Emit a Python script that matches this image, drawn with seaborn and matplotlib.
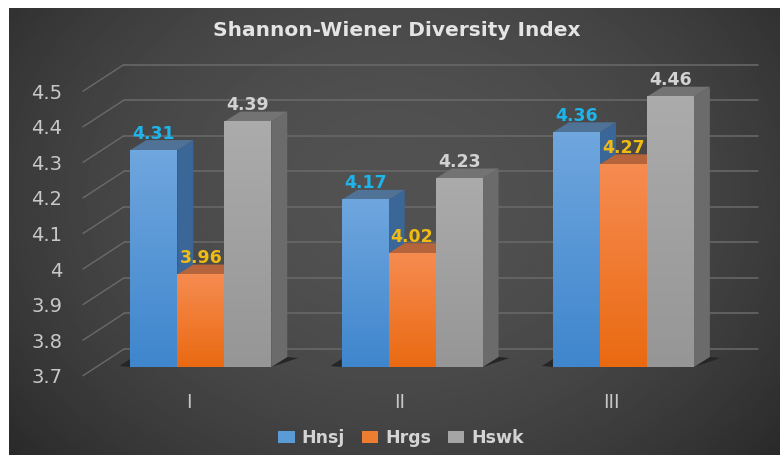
import numpy as np
import pandas as pd
import matplotlib
matplotlib.use("Agg")
import matplotlib.pyplot as plt
from matplotlib.patches import Polygon
from matplotlib.transforms import Affine2D
import seaborn as sns

sites = ["I", "II", "III"]
series_names = ["Hnsj", "Hrgs", "Hswk"]
hnsj = [4.31, 4.17, 4.36]
hrgs = [3.96, 4.02, 4.27]
hswk = [4.39, 4.23, 4.46]
y_ticks = [3.7, 3.8, 3.9, 4.0, 4.1, 4.2, 4.3, 4.4, 4.5]
y_tick_labels = ["3.7", "3.8", "3.9", "4", "4.1", "4.2", "4.3", "4.4", "4.5"]
title = "Shannon-Wiener Diversity Index"

front_top = ["#6fa6de", "#f68b50", "#ababab"]
front_bottom = ["#3f86cd", "#ea6a12", "#969696"]
side_colors = ["#3a6797", "#a8552a", "#6b6b6b"]
top_colors = ["#4f7296", "#b5643c", "#737373"]
label_colors = ["#1eb4ec", "#f0bc14", "#d2d2d2"]

W, H = 780, 455
sns.set_theme(style="dark")
plt.rcParams["font.family"] = ["DejaVu Sans"]
fig = plt.figure(figsize=(W / 100, H / 100), dpi=100, facecolor="white")

# panel background
bg = fig.add_axes([0, 0, 1, 1], zorder=0)
bg.set_axis_off()
yy, xx = np.mgrid[0:1:200j, 0:1:400j]
r = np.sqrt(((xx - 0.5) / 0.62) ** 2 + ((yy - 0.42) / 0.85) ** 2)
shade = np.clip(0.32 - 0.14 * r ** 2, 0.14, 0.32)
bg.imshow(shade, cmap="gray", vmin=0, vmax=1, extent=(9, W, H, 8), aspect="auto")
bg.set_xlim(0, W)
bg.set_ylim(H, 0)

# plot axes: 3.7 at pixel y=367, 4.5 at pixel y=82.5
ax = fig.add_axes([83 / W, 1 - 367 / H, (758 - 83) / W, (367 - 82.5) / H], zorder=1)
ax.patch.set_alpha(0)

df = pd.DataFrame({
    "site": sites * 3,
    "series": np.repeat(series_names, 3),
    "value": hnsj + hrgs + hswk,
})
sns.barplot(data=df, x="site", y="value", hue="series", hue_order=series_names,
            palette=dict(zip(series_names, ["#5b9bd5", "#ed7d31", "#a5a5a5"])),
            width=0.667, gap=0, saturation=1, ax=ax, errorbar=None, linewidth=0)

xlim = (-0.5575, 2.637)
ylim = (3.7, 4.5)
ax.set_xlim(xlim)
ax.set_ylim(ylim)
ax.set_xlabel("")
ax.set_ylabel("")
sns.despine(ax=ax, left=True, bottom=True)
ax.grid(False)


def shifted(dx, dy):
    return ax.transData + Affine2D().translate(dx, dy)


# walls: gridlines on the back wall and slanted lines on the side wall
grid_c = "#6a6a6a"
back = shifted(0, 18)
x_back = xlim[0] + 41 / 211.3
for v in y_ticks:
    ax.plot([x_back, xlim[1]], [v, v], transform=back, color=grid_c, lw=1.1, zorder=0.5, clip_on=False)
    x0, y0 = ax.transData.transform((xlim[0], v))
    ax.add_line(plt.Line2D([x0, x0 + 41], [y0 - 8.7, y0 + 18], color=grid_c, lw=1.0,
                           transform=None, zorder=0.5, clip_on=False))

# ticks
ax.set_yticks(y_ticks, y_tick_labels)
ax.set_xticks(range(3), sites)
ax.tick_params(axis="y", length=0, pad=15, labelsize=14, labelcolor="#c8c8c8")
ax.tick_params(axis="x", length=0, pad=19, labelsize=13.5, labelcolor="#c8c8c8")
for t in ax.get_yticklabels():
    t.set_transform(t.get_transform() + Affine2D().translate(0, -8.7))
for t in ax.get_xticklabels():
    t.set_transform(t.get_transform() + Affine2D().translate(-12, 0))

# 3-D bars
DX, DY = 16, 10
for s, cont in enumerate(ax.containers):
    z = 2 + s
    for bar in cont.patches:
        x0, w, v = bar.get_x(), bar.get_width(), bar.get_height()
        x1 = x0 + w
        (px0, py0), (px1, py1) = ax.transData.transform([(x0, 3.7), (x1, v)])
        side = Polygon([(px1, py0), (px1 + DX, py0 + DY), (px1 + DX, py1 + DY), (px1, py1)],
                       transform=None, facecolor=side_colors[s], edgecolor="none",
                       zorder=z, clip_on=False)
        top = Polygon([(px0, py1), (px1, py1), (px1 + DX, py1 + DY), (px0 + DX, py1 + DY)],
                      transform=None, facecolor=top_colors[s], edgecolor="none",
                      zorder=z, clip_on=False)
        ax.add_patch(side)
        ax.add_patch(top)
        bar.set_zorder(z + 0.1)
        c0 = np.array(matplotlib.colors.to_rgb(front_top[s]))
        c1 = np.array(matplotlib.colors.to_rgb(front_bottom[s]))
        grad = np.linspace(0, 1, 64)[:, None, None] * (c1 - c0)[None, None, :] + c0[None, None, :]
        ax.imshow(grad, extent=(x0, x1, 3.7, v), aspect="auto", origin="upper", zorder=z + 0.2)
        ax.text(x0 + w / 2, v, f"{v:.2f}", transform=shifted(0, 16.5), ha="center", va="center",
                color=label_colors[s], fontsize=12.5, fontweight="bold", zorder=9, clip_on=False)
        # floor shadows
        if s == 0:
            ax.add_patch(Polygon([(px0 - 11, py0 + 1), (px0, py0 + 8), (px0, py0)], transform=None,
                                 facecolor="#262626", edgecolor="none", zorder=1.5, clip_on=False))
        if s == 2:
            ax.add_patch(Polygon([(px1, py0), (px1 + 16, py0 + 10), (px1 + 27, py0 + 9)], transform=None,
                                 facecolor="#262626", edgecolor="none", zorder=1.5, clip_on=False))
ax.set_xlim(xlim)
ax.set_ylim(ylim)

leg = ax.legend(loc="center", bbox_to_anchor=(401 / W, 1 - 438 / H), bbox_transform=fig.transFigure,
                ncol=3, frameon=False, fontsize=12.5, handlelength=0.95, handleheight=0.75,
                handletextpad=0.4, columnspacing=0.95, title=None)
for t in leg.get_texts():
    t.set_color("#d4d4d4")
    t.set_fontweight("bold")

fig.text(397 / W, 1 - 30 / H, title, ha="center", va="center", color="#e4e4e4",
         fontsize=14.5, fontweight="bold")

fig.savefig("out.png", dpi=100, facecolor="white")
